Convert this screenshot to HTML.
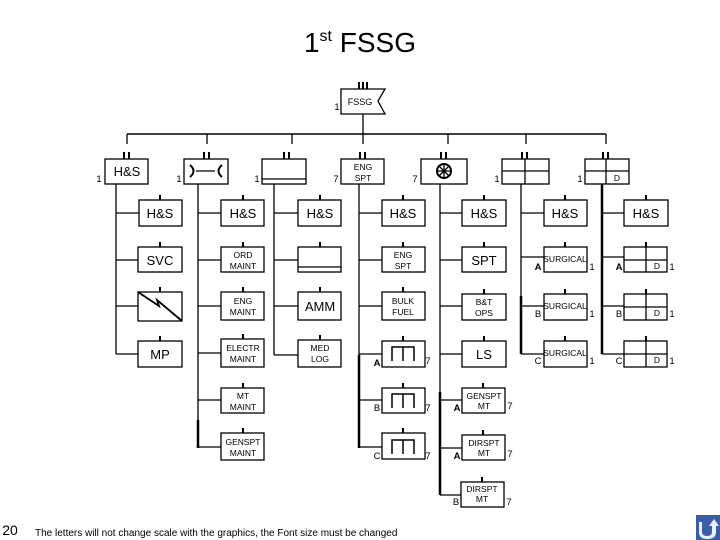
<!DOCTYPE html>
<html><head><meta charset="utf-8"><style>
html,body{margin:0;padding:0;background:#fff;width:720px;height:540px;overflow:hidden}
svg{display:block;font-family:"Liberation Sans",Arial,sans-serif}
</style></head><body>
<svg width="720" height="540" viewBox="0 0 720 540" xmlns="http://www.w3.org/2000/svg">
<g fill="none" stroke="#000" stroke-width="1.3">
<!-- top FSSG -->
<polygon points="341,89 385,89 378,101 385,114 341,114" fill="#fff"/>
<line x1="359" y1="82" x2="359" y2="89" stroke-width="2"/><line x1="363" y1="82" x2="363" y2="89" stroke-width="2"/><line x1="367" y1="82" x2="367" y2="89" stroke-width="2"/>
<line x1="363" y1="114" x2="363" y2="134"/>
<line x1="127" y1="134" x2="606" y2="134" stroke-width="1.5"/>
<!-- drops -->
<line x1="127" y1="134" x2="127" y2="144"/><line x1="207" y1="134" x2="207" y2="144"/><line x1="292" y1="134" x2="292" y2="144"/><line x1="363" y1="134" x2="363" y2="144"/><line x1="448" y1="134" x2="448" y2="144"/><line x1="526" y1="134" x2="526" y2="144"/><line x1="606" y1="134" x2="606" y2="144"/>
<!-- level1 boxes -->
<rect x="105" y="159" width="43" height="25"/>
<rect x="184" y="159" width="44" height="25"/>
<rect x="262" y="159" width="44" height="25"/><line x1="262" y1="179" x2="306" y2="179"/>
<rect x="341" y="159" width="43" height="25"/>
<rect x="421" y="159" width="46" height="25"/>
<rect x="502" y="159" width="47" height="25"/><line x1="502" y1="171" x2="549" y2="171"/><line x1="525" y1="159" x2="525" y2="184"/>
<rect x="585" y="159" width="44" height="25"/><line x1="585" y1="171" x2="629" y2="171"/><line x1="606" y1="159" x2="606" y2="184"/>
<!-- II marks -->
<g stroke-width="2">
<line x1="124" y1="152" x2="124" y2="159"/><line x1="129" y1="152" x2="129" y2="159"/>
<line x1="204" y1="152" x2="204" y2="159"/><line x1="209" y1="152" x2="209" y2="159"/>
<line x1="284" y1="152" x2="284" y2="159"/><line x1="289" y1="152" x2="289" y2="159"/>
<line x1="360" y1="152" x2="360" y2="159"/><line x1="365" y1="152" x2="365" y2="159"/>
<line x1="441" y1="152" x2="441" y2="159"/><line x1="446" y1="152" x2="446" y2="159"/>
<line x1="522" y1="152" x2="522" y2="159"/><line x1="527" y1="152" x2="527" y2="159"/>
<line x1="603" y1="152" x2="603" y2="159"/><line x1="608" y1="152" x2="608" y2="159"/>
</g>
<!-- connector symbol -->
<path d="M190,165 Q197,171 190,177" stroke-width="2"/><line x1="196" y1="171" x2="215" y2="171"/><path d="M222,165 Q215,171 222,177" stroke-width="2"/>
<!-- wheel -->
<circle cx="444" cy="171" r="7" stroke-width="2"/><line x1="437" y1="171" x2="451" y2="171"/><line x1="444" y1="164" x2="444" y2="178"/><line x1="439" y1="166" x2="449" y2="176"/><line x1="449" y1="166" x2="439" y2="176"/>

<!-- column 1 -->
<line x1="116" y1="184" x2="116" y2="354"/>
<line x1="116" y1="213" x2="139" y2="213"/><line x1="116" y1="260" x2="138" y2="260"/><line x1="116" y1="306" x2="138" y2="306"/><line x1="116" y1="354" x2="138" y2="354"/>
<rect x="139" y="200" width="43" height="26"/>
<rect x="138" y="247" width="44" height="25"/>
<rect x="138" y="292" width="44" height="29"/>
<polyline points="138,292 159,306 157,300 182,321" stroke-width="1.8"/>
<rect x="138" y="341" width="44" height="26"/>
<!-- column 2 -->
<line x1="198" y1="184" x2="198" y2="448"/><line x1="198" y1="420" x2="198" y2="448" stroke-width="2.5"/>
<rect x="221" y="200" width="43" height="26"/>
<rect x="221" y="247" width="43" height="25"/>
<rect x="221" y="292" width="43" height="28"/>
<rect x="221" y="339" width="43" height="28"/>
<rect x="221" y="388" width="43" height="25"/>
<rect x="221" y="433" width="43" height="27"/>
<line x1="198" y1="213" x2="221" y2="213"/><line x1="198" y1="260" x2="221" y2="260"/><line x1="198" y1="306" x2="221" y2="306"/><line x1="198" y1="353" x2="221" y2="353"/><line x1="198" y1="400" x2="221" y2="400"/><line x1="198" y1="447" x2="221" y2="447"/>
<!-- column 3 -->
<line x1="274" y1="184" x2="274" y2="355"/>
<rect x="298" y="200" width="43" height="26"/>
<rect x="298" y="247" width="43" height="25"/><line x1="298" y1="267" x2="341" y2="267"/>
<rect x="298" y="292" width="43" height="28"/>
<rect x="298" y="340" width="43" height="27"/>
<line x1="274" y1="213" x2="298" y2="213"/><line x1="274" y1="260" x2="298" y2="260"/><line x1="274" y1="306" x2="298" y2="306"/><line x1="274" y1="355" x2="298" y2="355"/>
<!-- column 4 -->
<line x1="359" y1="184" x2="359" y2="448"/><line x1="359" y1="355" x2="359" y2="448" stroke-width="2.5"/>
<rect x="382" y="200" width="43" height="26"/>
<rect x="382" y="247" width="43" height="25"/>
<rect x="382" y="292" width="43" height="28"/>
<rect x="382" y="341" width="43" height="26"/>
<rect x="382" y="388" width="43" height="25"/>
<rect x="382" y="433" width="43" height="26"/>
<line x1="359" y1="213" x2="382" y2="213"/><line x1="359" y1="260" x2="382" y2="260"/><line x1="359" y1="306" x2="382" y2="306"/><line x1="359" y1="354" x2="382" y2="354"/><line x1="359" y1="400" x2="382" y2="400"/><line x1="359" y1="447" x2="382" y2="447"/>
<path d="M392,361 V347 H414 V361 M403,347 V361" stroke-width="1.5"/>
<path d="M392,408 V394 H414 V408 M403,394 V408" stroke-width="1.5"/>
<path d="M392,454 V440 H414 V454 M403,440 V454" stroke-width="1.5"/>
<!-- column 5 -->
<line x1="440" y1="184" x2="440" y2="495"/><line x1="440" y1="392" x2="440" y2="495" stroke-width="2.5"/>
<rect x="462" y="200" width="44" height="26"/>
<rect x="462" y="247" width="44" height="25"/>
<rect x="462" y="294" width="44" height="26"/>
<rect x="462" y="341" width="44" height="26"/>
<rect x="462" y="388" width="43" height="25"/>
<rect x="462" y="435" width="43" height="25"/>
<rect x="461" y="482" width="43" height="25"/>
<line x1="440" y1="213" x2="462" y2="213"/><line x1="440" y1="260" x2="462" y2="260"/><line x1="440" y1="306" x2="462" y2="306"/><line x1="440" y1="354" x2="462" y2="354"/><line x1="440" y1="400" x2="462" y2="400"/><line x1="440" y1="448" x2="462" y2="448"/><line x1="440" y1="495" x2="461" y2="495"/>
<!-- column 6 -->
<line x1="521" y1="184" x2="521" y2="354"/><line x1="521" y1="296" x2="521" y2="354" stroke-width="2.5"/>
<rect x="544" y="200" width="43" height="26"/>
<rect x="544" y="247" width="43" height="25"/>
<rect x="544" y="294" width="43" height="26"/>
<rect x="544" y="341" width="43" height="26"/>
<line x1="521" y1="213" x2="544" y2="213"/><line x1="521" y1="257" x2="544" y2="257"/><line x1="521" y1="306" x2="544" y2="306"/><line x1="521" y1="354" x2="544" y2="354"/>
<!-- column 7 -->
<line x1="602" y1="184" x2="602" y2="354" stroke-width="2.5"/>
<rect x="624" y="200" width="44" height="26"/>
<rect x="624" y="247" width="43" height="25"/><line x1="624" y1="260" x2="667" y2="260"/><line x1="646" y1="247" x2="646" y2="272"/>
<rect x="624" y="294" width="43" height="26"/><line x1="624" y1="307" x2="667" y2="307"/><line x1="646" y1="294" x2="646" y2="320"/>
<rect x="624" y="341" width="43" height="26"/><line x1="624" y1="354" x2="667" y2="354"/><line x1="646" y1="341" x2="646" y2="367"/>
<line x1="602" y1="213" x2="624" y2="213"/><line x1="602" y1="257" x2="624" y2="257"/><line x1="602" y1="306" x2="624" y2="306"/><line x1="602" y1="354" x2="624" y2="354"/>
<!-- ticks above child boxes -->
<g stroke-width="2">
<path d="M160,195V200 M160,242V247 M160,287V292 M160,336V341"/>
<path d="M243,195V200 M243,242V247 M243,287V292 M243,334V339 M243,383V388 M243,428V433"/>
<path d="M320,195V200 M320,242V247 M320,287V292 M320,335V340"/>
<path d="M403,195V200 M403,242V247 M403,287V292 M403,336V341 M403,383V388 M403,428V433"/>
<path d="M484,195V200 M484,242V247 M484,289V294 M484,336V341 M483,383V388 M483,430V435 M482,477V482"/>
<path d="M565,195V200 M565,242V247 M565,289V294 M565,336V341"/>
<path d="M646,195V200 M646,242V247 M646,289V294 M646,336V341"/>
</g>
</g>

<g fill="#000" text-anchor="middle">
<text x="360" y="52" font-size="28">1<tspan font-size="16" dy="-11">st</tspan><tspan dy="11"> FSSG</tspan></text>
<text x="360" y="105" font-size="9">FSSG</text>
<g font-size="13">
<text x="127" y="176">H&amp;S</text>
<text x="160" y="218">H&amp;S</text><text x="160" y="265">SVC</text><text x="160" y="359">MP</text>
<text x="243" y="218">H&amp;S</text><text x="320" y="218">H&amp;S</text><text x="320" y="311">AMM</text>
<text x="403" y="218">H&amp;S</text><text x="484" y="218">H&amp;S</text><text x="484" y="265">SPT</text><text x="484" y="359">LS</text>
<text x="565" y="218">H&amp;S</text><text x="646" y="218">H&amp;S</text>
</g>
<g font-size="8.5">
<text x="363" y="170">ENG</text><text x="363" y="181">SPT</text>
<text x="243" y="258">ORD</text><text x="243" y="269">MAINT</text>
<text x="243" y="304">ENG</text><text x="243" y="315">MAINT</text>
<text x="243" y="351">ELECTR</text><text x="243" y="362">MAINT</text>
<text x="243" y="399">MT</text><text x="243" y="410">MAINT</text>
<text x="243" y="445">GENSPT</text><text x="243" y="456">MAINT</text>
<text x="320" y="351">MED</text><text x="320" y="362">LOG</text>
<text x="403" y="258">ENG</text><text x="403" y="269">SPT</text>
<text x="403" y="304">BULK</text><text x="403" y="315">FUEL</text>
<text x="484" y="305">B&amp;T</text><text x="484" y="316">OPS</text>
<text x="484" y="399">GENSPT</text><text x="484" y="409">MT</text>
<text x="484" y="446">DIRSPT</text><text x="484" y="456">MT</text>
<text x="482" y="492">DIRSPT</text><text x="482" y="502">MT</text>
<text x="565" y="262">SURGICAL</text><text x="565" y="309">SURGICAL</text><text x="565" y="356">SURGICAL</text>
<text x="617" y="181">D</text><text x="657" y="269">D</text><text x="657" y="316">D</text><text x="657" y="363">D</text>
</g>
<g font-size="9.5">
<text x="337" y="110">1</text>
<text x="99" y="182">1</text><text x="179" y="182">1</text><text x="257" y="182">1</text><text x="336" y="182">7</text><text x="415" y="182">7</text><text x="497" y="182">1</text><text x="580" y="182">1</text>
<text x="377" y="366" font-weight="bold">A</text><text x="377" y="411">B</text><text x="377" y="459">C</text>
<text x="428" y="364">7</text><text x="428" y="411">7</text><text x="428" y="459">7</text>
<text x="457" y="411" font-weight="bold">A</text><text x="457" y="459" font-weight="bold">A</text><text x="456" y="505">B</text>
<text x="510" y="409">7</text><text x="510" y="457">7</text><text x="509" y="505">7</text>
<text x="538" y="270" font-weight="bold">A</text><text x="538" y="317">B</text><text x="538" y="364">C</text>
<text x="592" y="270">1</text><text x="592" y="317">1</text><text x="592" y="364">1</text>
<text x="619" y="270" font-weight="bold">A</text><text x="619" y="317">B</text><text x="619" y="364">C</text>
<text x="672" y="270">1</text><text x="672" y="317">1</text><text x="672" y="364">1</text>
</g>
<text x="10" y="535" font-size="14">20</text>
<text x="35" y="536" font-size="10" text-anchor="start">The letters will not change scale with the graphics, the Font size must be changed</text>
</g>
<rect x="696" y="515" width="24" height="25" fill="#3a5fa8"/>
<path d="M702,522 V532 Q702,536 707,536 Q712,536 712,532 V526 H709 L714,519 L719,526 H716 V532 Q716,539 707,539 Q699,539 699,532 V522 Z" fill="#fff" opacity="0.9"/>
</svg>
</body></html>
